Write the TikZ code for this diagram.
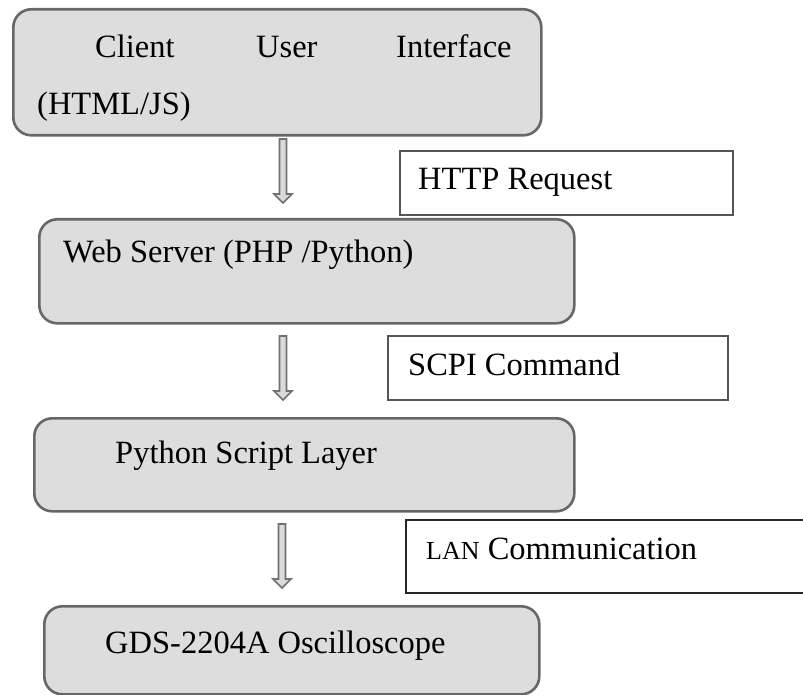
\documentclass[tikz,border=0pt]{standalone}
\usepackage{fontspec}
\setmainfont{Liberation Serif}
\usetikzlibrary{calc}
\definecolor{boxfill}{HTML}{DDDDDD}
\definecolor{boxline}{HTML}{676767}
\definecolor{tagline}{HTML}{555555}
\definecolor{arrline}{HTML}{707070}
\definecolor{arrfill}{HTML}{DADADA}
\tikzset{
  layer/.style={draw=boxline, line width=2.6pt, fill=boxfill, rounded corners=18pt, anchor=north west, inner sep=0pt},
  tagbox/.style={draw=tagline, line width=2.4pt, fill=white, anchor=north west, inner sep=0pt},
  txt/.style={anchor=base west, inner sep=0pt, font=\fontsize{32.5}{39}\selectfont},
  flow/.style={draw=arrline, fill=arrfill, line width=1.6pt, line join=miter},
}
\newcommand{\flowarrow}[2]{%
  \draw[flow] ($(#1)+(-3.5,0)$) -- ($(#2)+(-3.5,-9)$) -- ($(#2)+(-9,-9)$) -- (#2)
    -- ($(#2)+(9,-9)$) -- ($(#2)+(3.5,-9)$) -- ($(#1)+(3.5,0)$) -- cycle;}
\begin{document}
\begin{tikzpicture}[x=1pt,y=-1pt]
\useasboundingbox (0,0) rectangle (803,695);
\clip (0,0) rectangle (803,695);
% layer boxes
\node[layer, minimum width=528pt, minimum height=126pt] (b1) at (12,8) {};
\node[layer, minimum width=535pt, minimum height=104pt] (b2) at (38,218) {};
\node[layer, minimum width=540pt, minimum height=93pt] (b3) at (33,417) {};
\node[layer, minimum width=495pt, minimum height=88pt] (b4) at (43,605) {};
% tag boxes
\node[tagbox, minimum width=333pt, minimum height=64pt] (t1) at (399,150) {};
\node[tagbox, minimum width=340pt, minimum height=64pt] (t2) at (387,335) {};
\draw[draw=black!85, line width=1.8pt] (815,520) -- (406,520) -- (406,593) -- (815,593);
\coordinate (t3) at (406,520);
% texts
\node[txt] (c1) at (95,58) {Client};
\node[txt] (c2) at (256,58) {User};
\node[txt] (c3) at (396,58) {Interface};
\node[txt] (c4) at (37,115) {(HTML/JS)};
\node[txt] (w1) at (63,262) {Web Server (PHP /Python)};
\node[txt] (p1) at (115,463) {Python Script Layer};
\node[txt] (g1) at (105,653) {GDS-2204A Oscilloscope};
\node[txt] (h1) at (418,190) {HTTP Request};
\node[txt] (s1) at (408,375) {SCPI Command};
\node[txt] (l1) at (426,559) {{\fontsize{26}{30}\selectfont LAN} Communication};
% arrows
\coordinate (a1t) at (283,139); \coordinate (a1b) at (283,203);
\coordinate (a2t) at (283,336); \coordinate (a2b) at (283,400);
\coordinate (a3t) at (282,524); \coordinate (a3b) at (282,588);
\flowarrow{a1t}{a1b}
\flowarrow{a2t}{a2b}
\flowarrow{a3t}{a3b}
\end{tikzpicture}
\end{document}
